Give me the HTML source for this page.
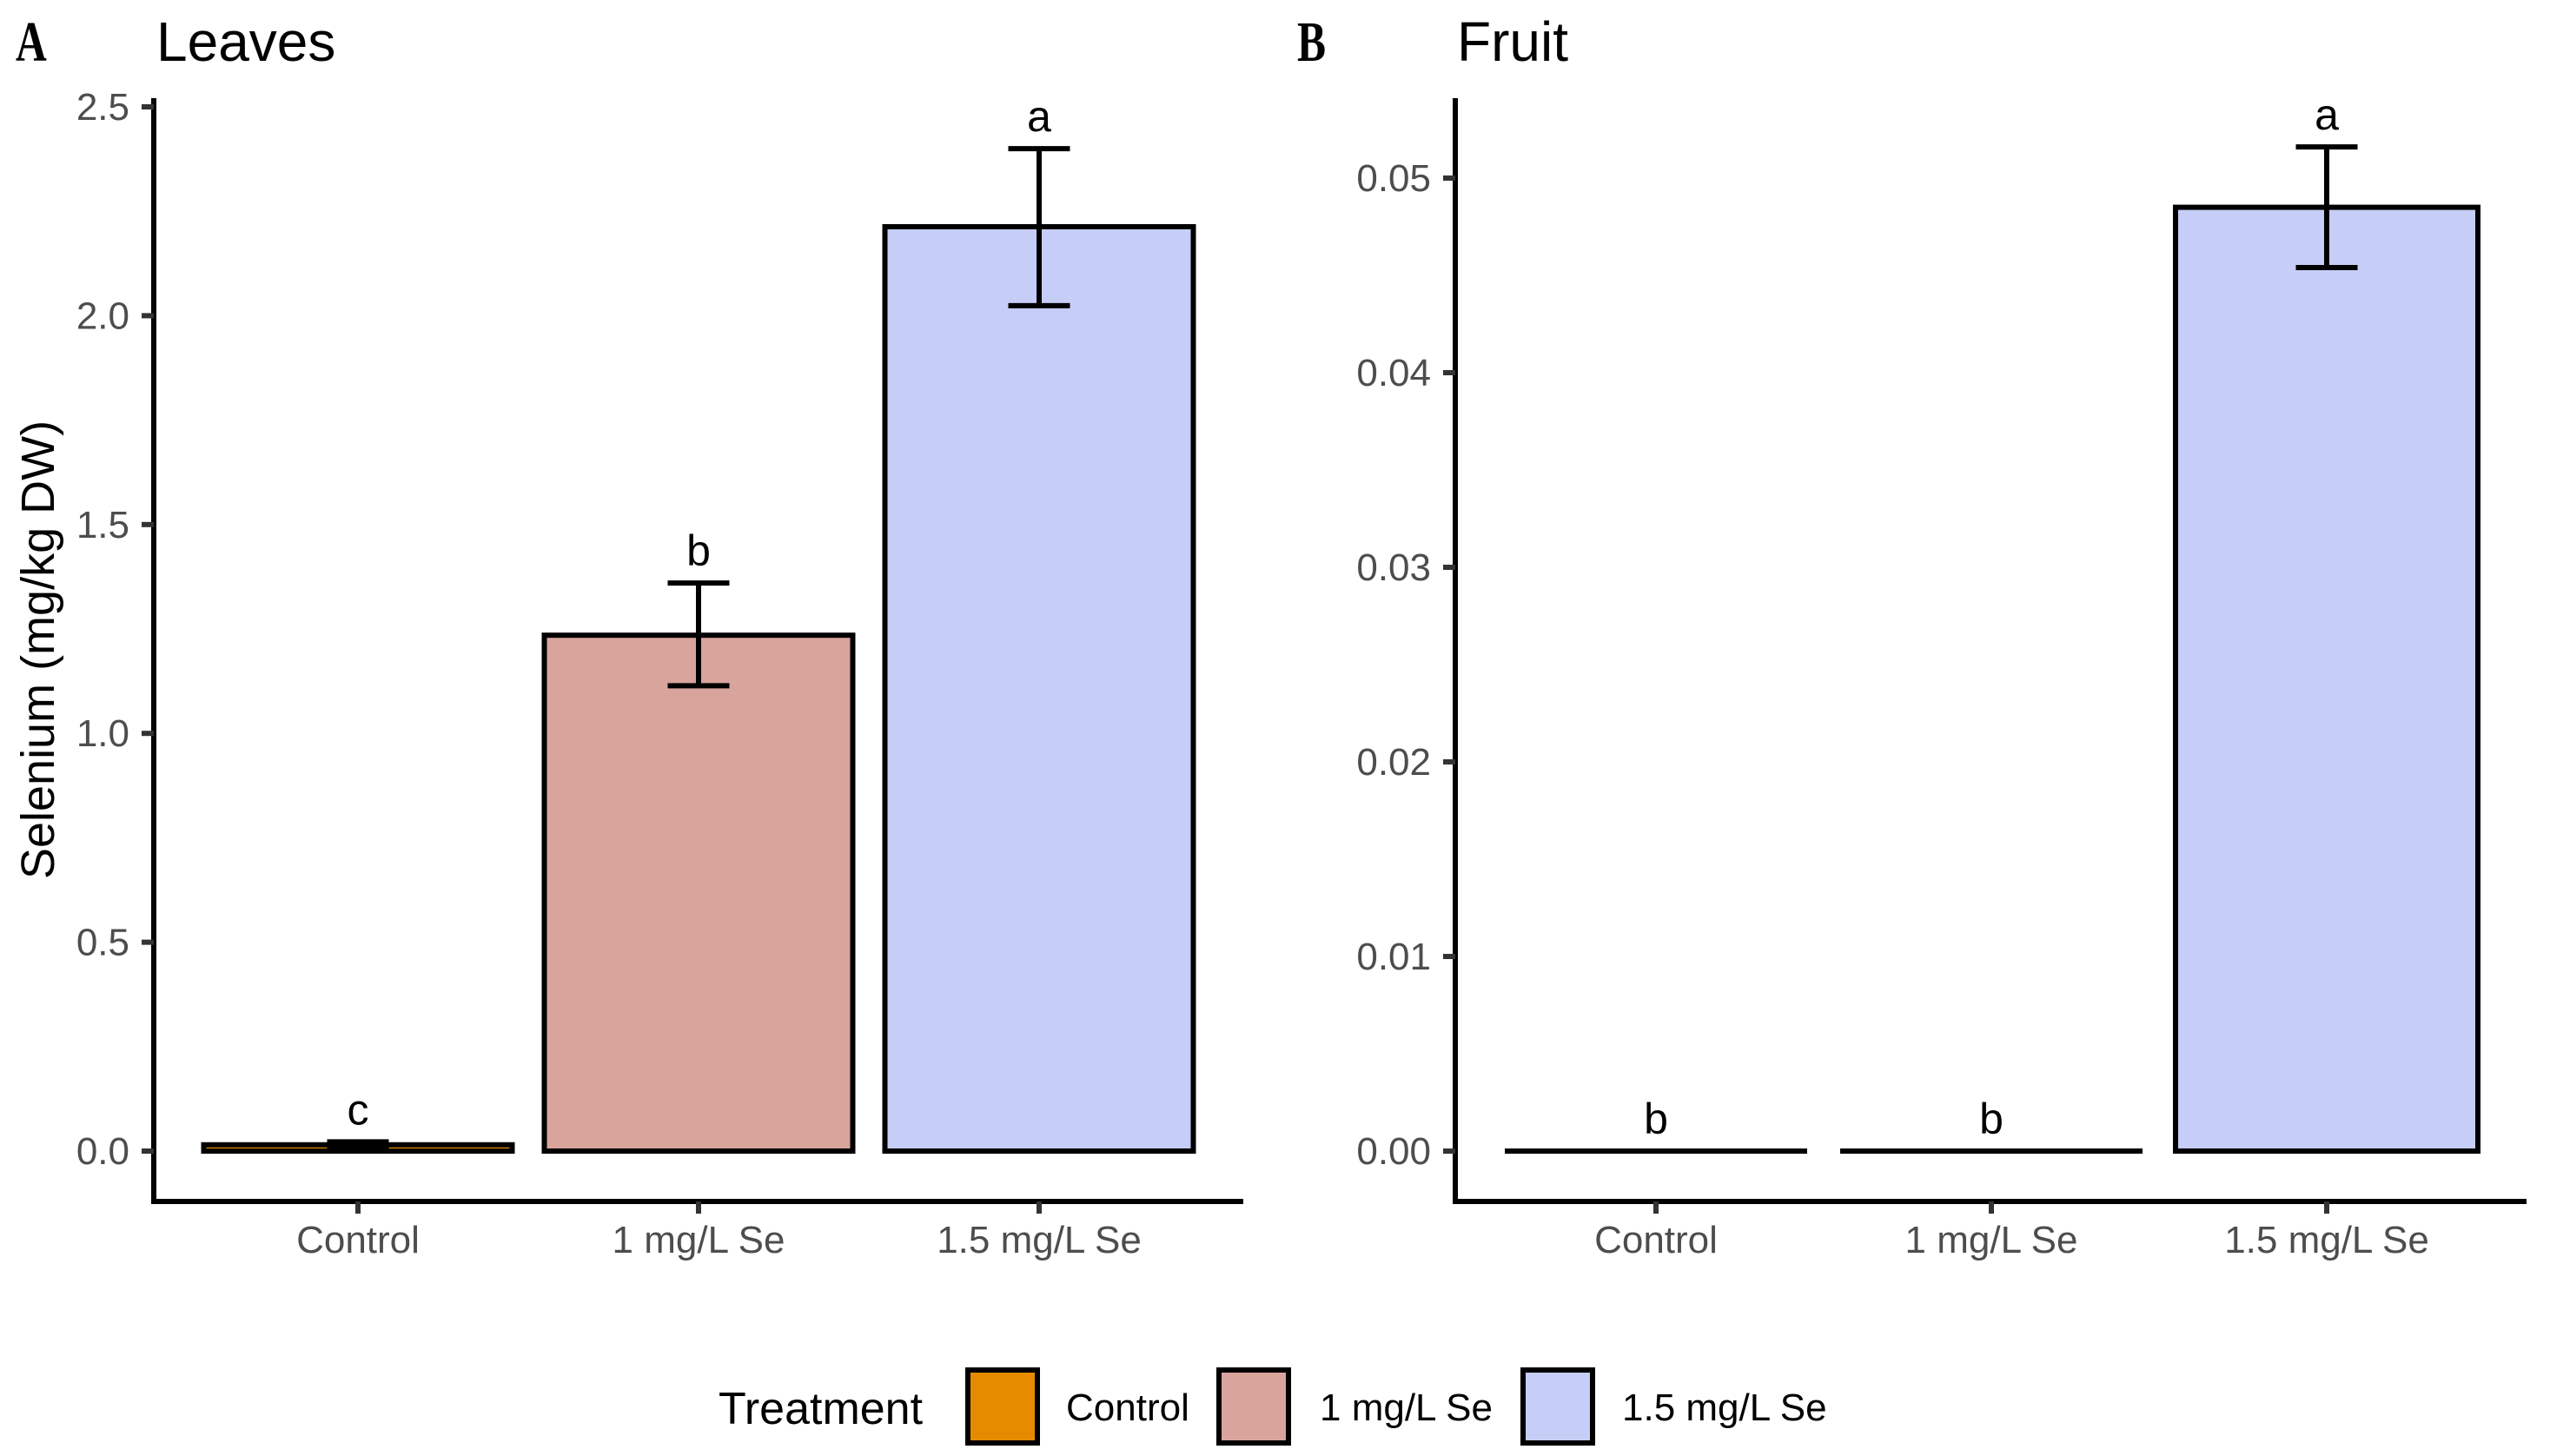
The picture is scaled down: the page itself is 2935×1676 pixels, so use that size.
<!DOCTYPE html>
<html><head><meta charset="utf-8"><style>
html,body{margin:0;padding:0;background:#fff;}
svg{display:block;font-family:"Liberation Sans",Arial,sans-serif;}
</style></head><body>
<svg id="fig" width="2935" height="1676" viewBox="0 0 2935 1676" xmlns="http://www.w3.org/2000/svg">
<rect x="0" y="0" width="2935" height="1676" fill="#fff"/>
</svg>
<script>
const categories = ["Control", "1 mg/L Se", "1.5 mg/L Se"];
const colors = ["#E68A00", "#D8A49C", "#C6CDF6"];
const leavesMean = [0.015, 1.235, 2.213];
const leavesLow = [0.008, 1.114, 2.024];
const leavesHigh = [0.022, 1.36, 2.40];
const leavesLetters = ["c", "b", "a"];
const leavesTicks = [0, 0.5, 1.0, 1.5, 2.0, 2.5];
const leavesTickLabels = ["0.0", "0.5", "1.0", "1.5", "2.0", "2.5"];
const fruitMean = [0, 0, 0.0485];
const fruitLow = [0, 0, 0.0454];
const fruitHigh = [0, 0, 0.0516];
const fruitLetters = ["b", "b", "a"];
const fruitTicks = [0, 0.01, 0.02, 0.03, 0.04, 0.05];
const fruitTickLabels = ["0.00", "0.01", "0.02", "0.03", "0.04", "0.05"];

const svg = document.getElementById('fig');
const NS = "http://www.w3.org/2000/svg";
const SW = 6;
function mk(tag, attrs, parent) {
  const e = document.createElementNS(NS, tag);
  for (const k in attrs) e.setAttribute(k, attrs[k]);
  (parent || svg).appendChild(e);
  return e;
}

function panel(cfg) {
  const g = mk('g', {});
  
  
  const yScale = v => cfg.y0 - (v - 0) * cfg.pxPerUnit;
  const xCenter = i => cfg.firstCenter + i * cfg.step;

  const ya = mk('line', {x1: cfg.axisX, y1: cfg.axisTop, x2: cfg.axisX, y2: cfg.axisBottom + 3, stroke: '#000', 'stroke-width': SW}, g);
  
  
  const xa = mk('line', {x1: cfg.axisX - 3, y1: cfg.axisBottom, x2: cfg.axisRight, y2: cfg.axisBottom, stroke: '#000', 'stroke-width': SW}, g);
  
  

  cfg.ticks.forEach((t, i) => {
    const y = yScale(t);
    const tk = mk('line', {x1: cfg.axisX - 14, y1: y, x2: cfg.axisX, y2: y, stroke: '#333', 'stroke-width': SW}, g);
    
    
    const tl = mk('text', {x: cfg.axisX - 28, y: y + 15, 'text-anchor': 'end', 'font-size': 44, fill: '#4D4D4D'}, g);
    tl.textContent = cfg.tickLabels[i];
    
    
  });

  categories.forEach((c, i) => {
    const cx = xCenter(i);
    const tk = mk('line', {x1: cx, y1: cfg.axisBottom, x2: cx, y2: cfg.axisBottom + 14, stroke: '#333', 'stroke-width': SW}, g);
    
    
    const tl = mk('text', {x: cx, y: 1442, 'text-anchor': 'middle', 'font-size': 44, fill: '#4D4D4D'}, g);
    tl.textContent = c;
    
    

    const v = cfg.mean[i];
    const top = yScale(v), base = yScale(0);
    const bname = 'bar-' + c.replace(/[^a-z0-9]+/gi, '-').toLowerCase();
    if (base - top > 0.5) {
      const bar = mk('rect', {x: cx - cfg.barW / 2, y: top, width: cfg.barW, height: base - top, fill: colors[i], stroke: '#000', 'stroke-width': SW}, g);
      
      
    } else {
      const bar = mk('line', {x1: cx - cfg.barW / 2, y1: base, x2: cx + cfg.barW / 2, y2: base, stroke: '#000', 'stroke-width': SW}, g);
      
      
    }

    let topY = top;
    if (cfg.high[i] > cfg.low[i]) {
      const yh = yScale(cfg.high[i]), yl = yScale(cfg.low[i]);
      const eg = mk('g', {stroke: '#000', 'stroke-width': SW}, g);
      
      
      mk('line', {x1: cx, y1: yh, x2: cx, y2: yl}, eg);
      mk('line', {x1: cx - cfg.capW / 2, y1: yh, x2: cx + cfg.capW / 2, y2: yh}, eg);
      mk('line', {x1: cx - cfg.capW / 2, y1: yl, x2: cx + cfg.capW / 2, y2: yl}, eg);
      topY = yh;
    }
    const lt = mk('text', {x: cx, y: topY - 20, 'text-anchor': 'middle', 'font-size': 50, fill: '#000'}, g);
    lt.textContent = cfg.letters[i];
    
    
  });

  const pl = mk('text', {x: cfg.tagX, y: 70, 'font-size': 66, 'font-weight': 'bold', 'font-family': '"Liberation Serif", serif', fill: '#000', transform: `translate(${cfg.tagX},0) scale(0.75,1) translate(${-cfg.tagX},0)`}, g);
  pl.textContent = cfg.tag;
  
  
  const tt = mk('text', {x: cfg.titleX, y: 70, 'font-size': 64, fill: '#000'}, g);
  tt.textContent = cfg.title;
  
  
}

panel({name: 'panel-leaves', tag: 'A', tagX: 18, title: 'Leaves', titleX: 180,
  axisX: 177, axisTop: 113, axisBottom: 1383, axisRight: 1431,
  y0: 1325, pxPerUnit: 480.8, firstCenter: 412, step: 392, barW: 355, capW: 71,
  mean: leavesMean, low: leavesLow, high: leavesHigh, letters: leavesLetters,
  ticks: leavesTicks, tickLabels: leavesTickLabels});

panel({name: 'panel-fruit', tag: 'B', tagX: 1493, title: 'Fruit', titleX: 1677,
  axisX: 1675, axisTop: 113, axisBottom: 1383, axisRight: 2908,
  y0: 1325, pxPerUnit: 22400, firstCenter: 1906, step: 386, barW: 348, capW: 71,
  mean: fruitMean, low: fruitLow, high: fruitHigh, letters: fruitLetters,
  ticks: fruitTicks, tickLabels: fruitTickLabels});

const yt = mk('text', {x: 0, y: 0, 'font-size': 54, 'text-anchor': 'middle', fill: '#000', transform: 'translate(62,748) rotate(-90)'});
yt.textContent = 'Selenium (mg/kg DW)';



const lg = mk('g', {});


const ltitle = mk('text', {x: 827, y: 1639, 'font-size': 52, fill: '#000'}, lg);
ltitle.textContent = 'Treatment';


const keyX = [1111, 1400, 1750];
const labX = [1227, 1519, 1867];
categories.forEach((c, i) => {
  const k = mk('rect', {x: keyX[i] + 3, y: 1577, width: 80, height: 84, fill: colors[i], stroke: '#000', 'stroke-width': SW}, lg);
  
  
  const t = mk('text', {x: labX[i], y: 1635, 'font-size': 44, fill: '#000'}, lg);
  t.textContent = c;
  
  
});
</script>
</body></html>
